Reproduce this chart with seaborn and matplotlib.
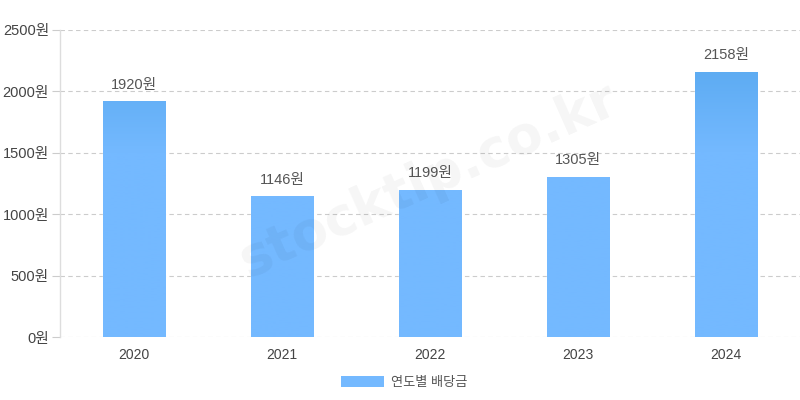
import matplotlib
matplotlib.use("Agg")
import matplotlib.pyplot as plt
import seaborn as sns
import numpy as np
import pandas as pd
from matplotlib.colors import LinearSegmentedColormap
from matplotlib.patches import Patch

years = ["2020", "2021", "2022", "2023", "2024"]
dividends = [1920, 1146, 1199, 1305, 2158]
y_ticks = [0, 500, 1000, 1500, 2000, 2500]
series_name = "연도별 배당금"

sns.set_theme(style="white")
plt.rcParams['font.family'] = ['Liberation Sans', 'Noto Sans CJK KR', 'DejaVu Sans']

df = pd.DataFrame({"year": years, "value": dividends})

fig = plt.figure(figsize=(8, 4), dpi=100)
ax = fig.add_axes([0.075, 0.1575, 0.925, 0.7675])

base = "#74b9ff"
sns.barplot(data=df, x="year", y="value", color=base, width=0.42,
            saturation=1, ax=ax, zorder=3)

ax.set_ylim(0, 2500)
ax.set_xlim(-0.5, len(years) - 0.5)

# vertical gradient overlay on bars (darker near the top of the value range)
cmap = LinearSegmentedColormap.from_list("g", ["#52a5ec", base])
vals = np.linspace(2500, 0, 256)
grad = np.clip((2500 - vals) / 1000.0, 0, 1).reshape(-1, 1)
bars = list(ax.patches)
for p in bars:
    im = ax.imshow(grad, cmap=cmap, vmin=0, vmax=1, aspect="auto",
                   extent=[-0.5, len(years) - 0.5, 0, 2500], zorder=3.5)
    im.set_clip_path(p)
ax.set_xlim(-0.5, len(years) - 0.5)
ax.set_ylim(0, 2500)

# value labels
for i, v in enumerate(dividends):
    ax.annotate(f"{v}원", (i, v), xytext=(0, 7), textcoords="offset points",
                ha="center", va="bottom", fontsize=10.5, color="#555555", zorder=5)

# grid
ax.set_yticks(y_ticks)
ax.set_yticklabels([f"{t}원" for t in y_ticks], fontsize=10.5, color="#444444")
ax.yaxis.grid(True, linestyle=(0, (4, 3)), color="#cccccc", linewidth=0.8, zorder=0)
ax.xaxis.grid(False)
ax.tick_params(axis="y", which="major", length=6, width=0.8, color="#cccccc", pad=2, left=True)
ax.tick_params(axis="x", length=0, pad=8, labelsize=10, labelcolor="#444444")
ax.set_xlabel("")
ax.set_ylabel("")
for s in ["top", "right", "bottom"]:
    ax.spines[s].set_visible(False)
ax.spines["left"].set_color("#dddddd")
ax.spines["left"].set_linewidth(1)

# watermark
fig.text(0.535, 0.55, "stocktip.co.kr", fontsize=38, fontweight="bold",
         color="#000000", alpha=0.04, rotation=24, ha="center", va="center",
         family="DejaVu Sans", zorder=10)

# legend
h = Patch(facecolor=base, edgecolor="none")
leg = fig.legend([h], [series_name], loc="center", bbox_to_anchor=(0.505, 0.043),
                 frameon=False, fontsize=9.5, handlelength=3.3, handleheight=0.9,
                 handletextpad=0.5)
for t in leg.get_texts():
    t.set_color("#555555")

fig.savefig("out.png", dpi=100, facecolor="white")
